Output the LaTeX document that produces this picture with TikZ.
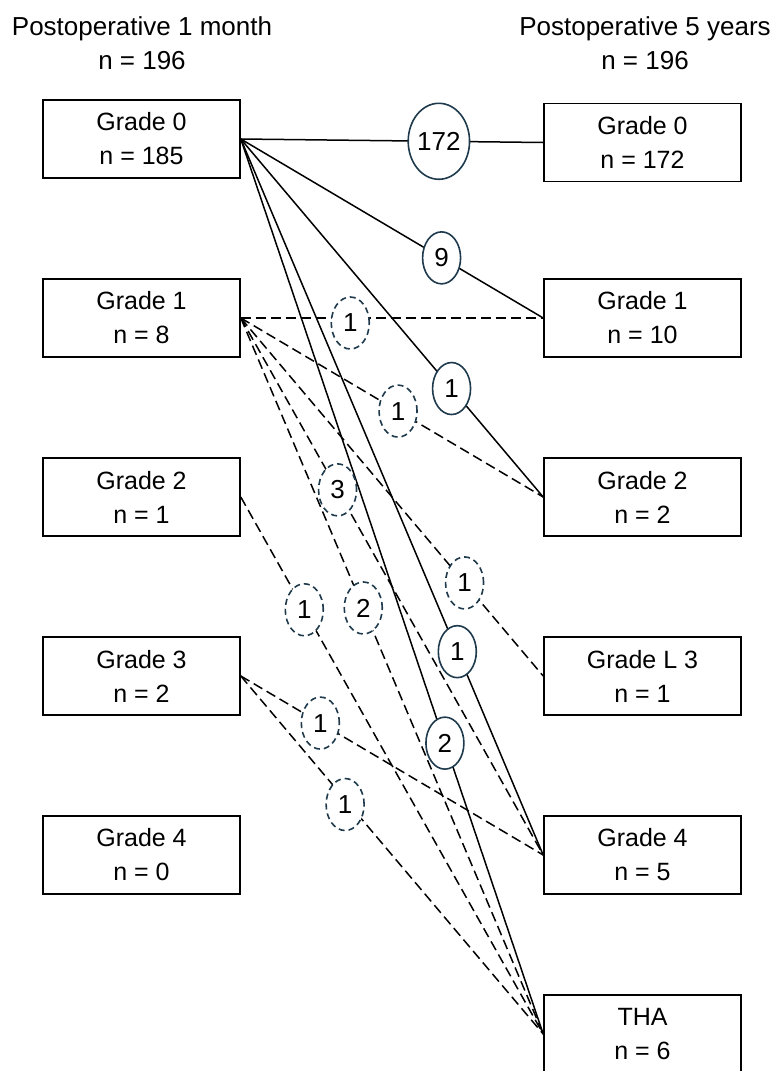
\documentclass[tikz,border=0pt]{standalone}
\usepackage{fontspec}
\setmainfont{Liberation Sans}
\usetikzlibrary{shapes.geometric,calc}
\definecolor{ellcol}{HTML}{1E3A4C}
\tikzset{
  gbox/.style={draw=black,line width=1.6pt,minimum width=197pt,minimum height=78pt,inner sep=0pt,align=center,font=\fontsize{25}{34}\selectfont},
  ttl/.style={align=center,inner sep=0pt,font=\fontsize{26}{34}\selectfont},
  sline/.style={draw=black,line width=1.5pt},
  dline/.style={draw=black,line width=1.5pt,dash pattern=on 10pt off 5pt},
  sell/.style={ellipse,draw=ellcol,fill=white,line width=1.6pt,inner sep=0pt,minimum width=38pt,minimum height=52pt,font=\fontsize{26}{28}\selectfont},
  bell/.style={sell,minimum width=58pt,minimum height=76pt},
  dell/.style={sell,dash pattern=on 6pt off 4pt},
}
\begin{document}
\begin{tikzpicture}[x=1pt,y=-1pt]
\useasboundingbox (0,0) rectangle (771,1071);
% titles
\node[ttl] (t1) at (142,43) {Postoperative 1 month\\n = 196};
\node[ttl] (t2) at (645,43) {Postoperative 5 years\\n = 196};
% left boxes
\node[gbox] (L0) at (141.5,139) {Grade 0\\n = 185};
\node[gbox] (L1) at (141.5,318) {Grade 1\\n = 8};
\node[gbox] (L2) at (141.5,497) {Grade 2\\n = 1};
\node[gbox] (L3) at (141.5,676) {Grade 3\\n = 2};
\node[gbox] (L4) at (141.5,855) {Grade 4\\n = 0};
% right boxes
\node[gbox] (R0) at (642.5,142.5) {Grade 0\\n = 172};
\node[gbox] (R1) at (642.5,318) {Grade 1\\n = 10};
\node[gbox] (R2) at (642.5,497) {Grade 2\\n = 2};
\node[gbox] (R3) at (642.5,676) {Grade L 3\\n = 1};
\node[gbox] (R4) at (642.5,855) {Grade 4\\n = 5};
\node[gbox] (R5) at (642.5,1034) {THA\\n = 6};
% connectors
\draw[sline] (L0.east) -- (R0.west);
\draw[sline] (L0.east) -- (R1.west);
\draw[sline] (L0.east) -- (R2.west);
\draw[sline] (L0.east) -- (R4.west);
\draw[sline] (L0.east) -- (R5.west);
\draw[dline] (L1.east) -- (R1.west);
\draw[dline] (L1.east) -- (R2.west);
\draw[dline] (L1.east) -- (R3.west);
\draw[dline] (L1.east) -- (R4.west);
\draw[dline] (L1.east) -- (R5.west);
\draw[dline] (L2.east) -- (R5.west);
\draw[dline] (L3.east) -- (R4.west);
\draw[dline] (L3.east) -- (R5.west);
% count ellipses
\node[bell] (e00) at ($(L0.east)!0.655!(R0.west)$) {172};
\node[sell] (e01) at ($(L0.east)!0.664!(R1.west)$) {9};
\node[sell] (e02) at ($(L0.east)!0.697!(R2.west)$) {1};
\node[sell] (e04) at ($(L0.east)!0.716!(R4.west)$) {1};
\node[sell] (e05) at ($(L0.east)!0.675!(R5.west)$) {2};
\node[dell] (e11) at ($(L1.east)!0.362!(R1.west)+(0,5)$) {1};
\node[dell] (e12) at ($(L1.east)!0.52!(R2.west)$) {1};
\node[dell] (e13) at ($(L1.east)!0.74!(R3.west)$) {1};
\node[dell] (e14) at ($(L1.east)!0.32!(R4.west)$) {3};
\node[dell] (e15) at ($(L1.east)!0.405!(R5.west)$) {2};
\node[dell] (e25) at ($(L2.east)!0.21!(R5.west)$) {1};
\node[dell] (e34) at ($(L3.east)!0.263!(R4.west)$) {1};
\node[dell] (e35) at ($(L3.east)!0.345!(R5.west)+(0,5)$) {1};
\end{tikzpicture}
\end{document}
